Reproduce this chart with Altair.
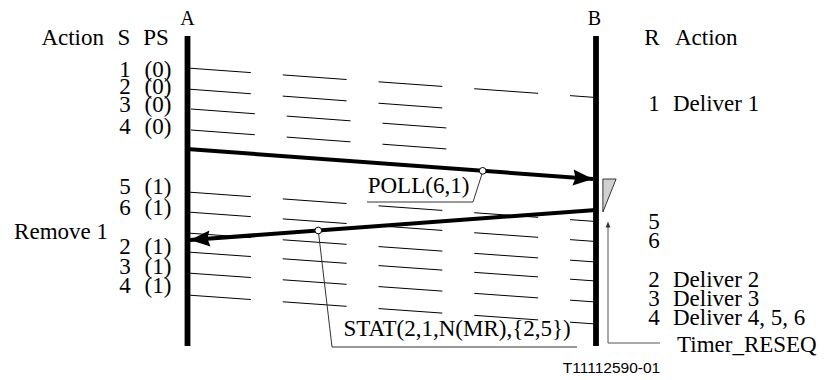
import math
import altair as alt
import pandas as pd

# ---------------- data (page pixel coordinates) ----------------
life_names = ["A", "B"]
life_x = [187.5, 596]
life_top = [36, 36]
life_bottom = [346, 346]
life_label_y = [19, 19]
life_label_x = [187.5, 594.5]

# frames in transit (thin dashed lines)
row_x1 = [187, 187, 191, 191, 187, 187, 187, 187, 187, 187]
row_y1 = [68, 89, 109, 130, 192, 212, 233, 252, 273, 295]
row_x2 = [596, 443, 447, 447, 596, 596, 596, 596, 596, 596]
row_y2 = [97.5, 108, 128, 149, 221.5, 241.5, 262, 281, 302, 324]

# supervisory messages (thick arrows)
msg_names = ["POLL(6,1)", "STAT(2,1,N(MR),{2,5})"]
msg_from_x = [187, 596]
msg_from_y = [149, 210]
msg_to_x = [593, 190]
msg_to_y = [179, 240]
msg_dot_x = [482.7, 318.3]
msg_label_x = [418.5, 457]
msg_label_y = [185.5, 329]
leader_x = [[482.7, 473, 367], [318.3, 332, 577]]
leader_y = [[171.7, 202, 202], [230.7, 347, 347]]

# left side texts
left_head = ["Action", "S", "PS"]
left_head_x = [72, 124, 156]
left_head_y = [38, 38, 38]
s_values = ["1", "2", "3", "4", "5", "6", "2", "3", "4"]
ps_values = ["(0)", "(0)", "(0)", "(0)", "(1)", "(1)", "(1)", "(1)", "(1)"]
s_y = [70, 86.5, 105, 127, 187, 208, 247, 267, 286]
left_action = ["Remove 1"]
left_action_y = [232]

# right side texts
r_values = ["1", "5", "6", "2", "3", "4"]
r_actions = ["Deliver 1", "", "", "Deliver 2", "Deliver 3", "Deliver 4, 5, 6"]
r_y = [103.5, 222, 241, 280, 299, 318]

# timer
timer_label = "Timer_RESEQ"
timer_x = [608, 608, 660]
timer_y = [226, 343, 343]
timer_tip = (608, 221.5)
timer_box_x = [603, 616, 603]
timer_box_y = [179, 179, 212]

figure_id = "T11112590-01"

# ---------------- tables ----------------
xs = alt.Scale(domain=[8, 818], nice=False, zero=False)
ys = alt.Scale(domain=[8, 378], nice=False, zero=False, reverse=True)


def X(f="x"):
    return alt.X(f"{f}:Q", scale=xs, axis=None)


def Y(f="y"):
    return alt.Y(f"{f}:Q", scale=ys, axis=None)


rows = pd.DataFrame({"x": row_x1, "y": row_y1, "x2": row_x2, "y2": row_y2})
lifes = pd.DataFrame({"x": life_x, "y": life_top, "y2": life_bottom})

msgs = pd.DataFrame({"x": msg_from_x, "y": msg_from_y, "x2": msg_to_x, "y2": msg_to_y})
heads = []
dots = []
for fx, fy, tx, ty, dx in zip(msg_from_x, msg_from_y, msg_to_x, msg_to_y, msg_dot_x):
    L = math.hypot(tx - fx, ty - fy)
    ux, uy = (tx - fx) / L, (ty - fy) / L
    heads.append({"x": tx - 10 * ux, "y": ty - 10 * uy,
                  "angle": (math.degrees(math.atan2(uy, ux)) + 360) % 360})
    dots.append({"x": dx, "y": fy + (dx - fx) / (tx - fx) * (ty - fy)})
heads = pd.DataFrame(heads)
dots = pd.DataFrame(dots)

lead = []
for g, (lx, ly) in enumerate(zip(leader_x, leader_y)):
    for i, (a, b) in enumerate(zip(lx, ly)):
        lead.append({"g": g, "o": i, "x": a, "y": b})
lead = pd.DataFrame(lead)

timer_df = pd.DataFrame({"o": range(3), "x": timer_x, "y": timer_y})
timer_head = pd.DataFrame({"x": [timer_tip[0]], "y": [timer_tip[1] + 3], "angle": [270]})
box = pd.DataFrame({"x": [(timer_box_x[0] + timer_box_x[1]) / 2],
                    "y": [(timer_box_y[0] + timer_box_y[2]) / 2]})

center_txt = pd.DataFrame(
    [{"t": n, "x": x, "y": y} for n, x, y in zip(life_names, life_label_x, life_label_y)]
)
serif_center = pd.DataFrame(
    [{"t": t, "x": x, "y": y} for t, x, y in zip(left_head[1:], left_head_x[1:], left_head_y[1:])]
    + [{"t": t, "x": 125, "y": y} for t, y in zip(s_values, s_y)]
    + [{"t": t, "x": 158, "y": y} for t, y in zip(ps_values, s_y)]
    + [{"t": "R", "x": 652, "y": 38}]
    + [{"t": t, "x": 654, "y": y} for t, y in zip(r_values, r_y)]
    + [{"t": t, "x": x, "y": y} for t, x, y in zip(msg_names, msg_label_x, msg_label_y)]
)
serif_right = pd.DataFrame(
    [{"t": left_head[0], "x": 104, "y": left_head_y[0]}]
    + [{"t": t, "x": 108, "y": y} for t, y in zip(left_action, left_action_y)]
)
serif_left = pd.DataFrame(
    [{"t": "Action", "x": 675, "y": 38}]
    + [{"t": t, "x": 673, "y": y} for t, y in zip(r_actions, r_y) if t]
    + [{"t": timer_label, "x": 677, "y": 345}]
)
fig_df = pd.DataFrame({"t": [figure_id], "x": [611.5], "y": [368]})

# ---------------- layers ----------------
FONT = "Liberation Serif"
ARROW = "M1,0L-1,-0.8L-0.75,0L-1,0.8Z"
SMALL_ARROW = "M1,0L-1,-0.8L-1,0.8Z"

l_rows = alt.Chart(rows).mark_rule(color="black", strokeWidth=1, strokeDash=[64, 32]).encode(
    x=X(), y=Y(), x2="x2:Q", y2="y2:Q")
l_life = alt.Chart(lifes).mark_rule(color="black", strokeWidth=5.8).encode(x=X(), y=Y(), y2="y2:Q")
l_lead = alt.Chart(lead).mark_line(color="#333", strokeWidth=1).encode(
    x=X(), y=Y(), detail="g:N", order="o:Q")
l_msg = alt.Chart(msgs).mark_rule(color="black", strokeWidth=4).encode(
    x=X(), y=Y(), x2="x2:Q", y2="y2:Q")
l_head = alt.Chart(heads).mark_point(shape=ARROW, size=400, filled=True, color="black", opacity=1).encode(
    x=X(), y=Y(), angle=alt.Angle("angle:Q", scale=None))
l_dot = alt.Chart(dots).mark_point(shape="circle", size=45, filled=True, fill="white", stroke="black",
                                   strokeWidth=1, opacity=1).encode(x=X(), y=Y())
l_box = alt.Chart(box).mark_point(shape="M-0.4,-1L0.4,-1L-0.4,1Z", size=1089, filled=True, fill="#d0d0d0",
                                  stroke="#222", strokeWidth=0.9, opacity=1).encode(x=X(), y=Y())
l_timer = alt.Chart(timer_df).mark_line(color="#555", strokeWidth=1).encode(x=X(), y=Y(), order="o:Q")
l_thead = alt.Chart(timer_head).mark_point(shape=SMALL_ARROW, size=36, filled=True, color="#333",
                                           opacity=1).encode(
    x=X(), y=Y(), angle=alt.Angle("angle:Q", scale=None))

l_ab = alt.Chart(center_txt).mark_text(font=FONT, fontSize=20, align="center", baseline="middle",
                                       color="black").encode(x=X(), y=Y(), text="t:N")
l_tc = alt.Chart(serif_center).mark_text(font=FONT, fontSize=23, align="center", baseline="middle",
                                         color="black").encode(x=X(), y=Y(), text="t:N")
l_tr = alt.Chart(serif_right).mark_text(font=FONT, fontSize=23, align="right", baseline="middle",
                                        color="black").encode(x=X(), y=Y(), text="t:N")
l_tl = alt.Chart(serif_left).mark_text(font=FONT, fontSize=23, align="left", baseline="middle",
                                       color="black").encode(x=X(), y=Y(), text="t:N")
l_fig = alt.Chart(fig_df).mark_text(font="Liberation Sans", fontSize=15.5, align="center", baseline="middle",
                                    color="black").encode(x=X(), y=Y(), text="t:N")

chart = alt.layer(
    l_rows, l_life, l_lead, l_msg, l_head, l_dot, l_box, l_timer, l_thead,
    l_ab, l_tc, l_tr, l_tl, l_fig
).properties(width=810, height=370, padding=0, autosize="none", background="white").configure_view(stroke=None)

chart.save("out.html", embed_options={"renderer": "svg", "actions": False})
